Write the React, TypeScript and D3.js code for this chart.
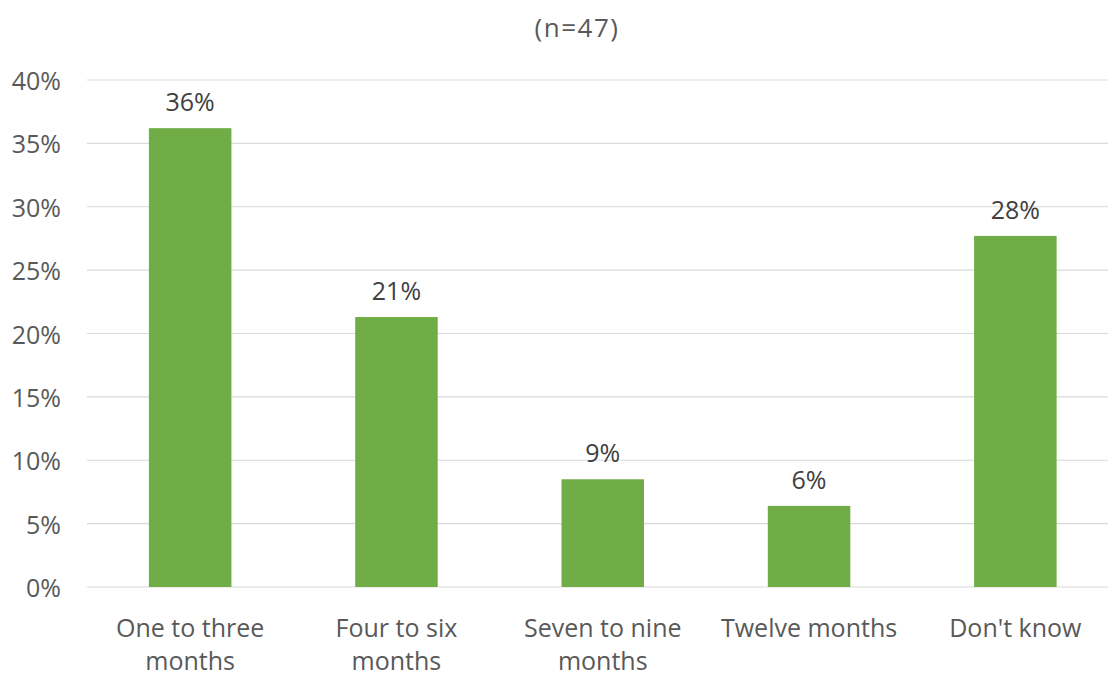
import React from "react";
import * as d3 from "d3";

const title = "(n=47)";
const categories = ["One to three months", "Four to six months", "Seven to nine months", "Twelve months", "Don't know"];
const values = [0.362, 0.213, 0.085, 0.064, 0.277];
const valueLabels = ["36%", "21%", "9%", "6%", "28%"];
const yTicks = [0, 0.05, 0.1, 0.15, 0.2, 0.25, 0.3, 0.35, 0.4];

const W = 1108;
const H = 674;
const FONT = "'Open Sans', 'Noto Sans', sans-serif";
const FS = 25;

function wrap(text: string, maxW: number): string[] {
  const canvas = document.createElement("canvas");
  const ctx = canvas.getContext("2d")!;
  ctx.font = `${FS}px ${FONT}`;
  const words = text.split(" ");
  const lines: string[] = [];
  let cur = "";
  for (const w of words) {
    const t = cur ? cur + " " + w : w;
    if (ctx.measureText(t).width > maxW && cur) {
      lines.push(cur);
      cur = w;
    } else cur = t;
  }
  if (cur) lines.push(cur);
  return lines;
}

export default function App() {
  const x = d3.scaleBand<string>().domain(categories).range([87, 1118.5]).paddingInner(0.6).paddingOuter(0.3);
  const y = d3.scaleLinear().domain([0, 0.4]).range([587, 80]);
  const fmt = d3.format(".0%");
  return (
    <svg width={W} height={H} style={{ position: "absolute", left: 0, top: 0, background: "#fff" }} fontFamily={FONT}>
      <text x={577} y={27} textAnchor="middle" dominantBaseline="central" fontSize={26} letterSpacing={1.5} fill="#595959">{title}</text>
      {yTicks.map((t) => (
        <g key={t}>
          <line x1={87} x2={W} y1={y(t)} y2={y(t)} stroke="#d9d9d9" strokeWidth={1.2} />
          <text x={61} y={y(t)} textAnchor="end" dominantBaseline="central" fontSize={FS} fill="#595959">{fmt(t)}</text>
        </g>
      ))}
      {categories.map((c, i) => (
        <g key={c}>
          <rect x={x(c)} y={y(values[i])} width={x.bandwidth()} height={y(0) - y(values[i])} fill="#70ad47" />
          <text x={x(c)! + x.bandwidth() / 2} y={y(values[i]) - 27} textAnchor="middle" dominantBaseline="central" fontSize={FS} fill="#404040">{valueLabels[i]}</text>
          {wrap(c, 195).map((line, j) => (
            <text key={j} x={x(c)! + x.bandwidth() / 2} y={627 + j * 33} textAnchor="middle" dominantBaseline="central" fontSize={FS} fill="#595959">{line}</text>
          ))}
        </g>
      ))}
    </svg>
  );
}
